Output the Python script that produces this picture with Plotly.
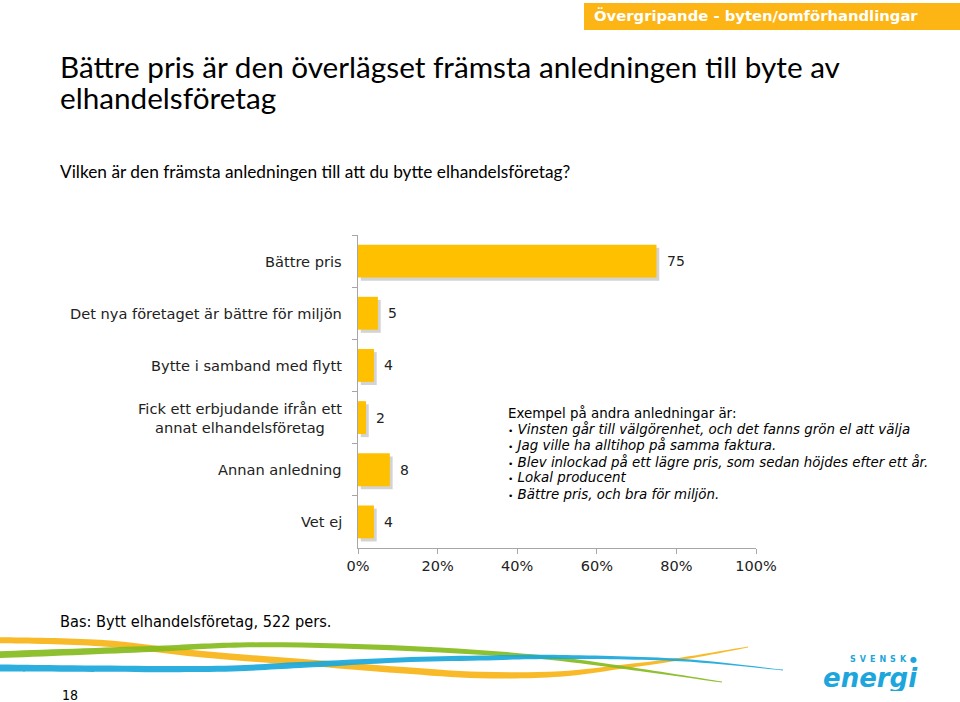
import plotly.graph_objects as go

# ---------------- data ----------------
categories = [
    "Bättre pris",
    "Det nya företaget är bättre för miljön",
    "Bytte i samband med flytt",
    "Fick ett erbjudande ifrån ett<br>annat elhandelsföretag",
    "Annan anledning",
    "Vet ej",
]
values = [75, 5, 4, 2, 8, 4]
x_ticks = [0, 20, 40, 60, 80, 100]
x_ticklabels = ["0%", "20%", "40%", "60%", "80%", "100%"]

title_lines = ["Bättre pris är den överlägset främsta anledningen till byte av", "elhandelsföretag"]
subtitle = "Vilken är den främsta anledningen till att du bytte elhandelsföretag?"
header = "Övergripande - byten/omförhandlingar"
note_head = "Exempel på andra anledningar är:"
note_items = [
    "Vinsten går till välgörenhet, och det fanns grön el att välja",
    "Jag ville ha alltihop på samma faktura.",
    "Blev inlockad på ett lägre pris, som sedan höjdes efter ett år.",
    "Lokal producent",
    "Bättre pris, och bra för miljön.",
]
base_text = "Bas: Bytt elhandelsföretag, 522 pers."
page_no = "18"

# ---------------- layout geometry ----------------
WIDTH, HEIGHT = 960, 702
OFF = 0  # body margin removed via post_script
# plot area in page pixels: x 358..756, y 235..548
L = 358 - OFF
T = 235 - OFF
R = WIDTH - (756 - OFF)
B = HEIGHT - (548 - OFF)
PW = WIDTH - L - R
PH = HEIGHT - T - B


def px(x):
    """page pixel x -> paper"""
    return (x - OFF - L) / PW


def py(y):
    """page pixel y -> paper"""
    return (HEIGHT - B - (y - OFF)) / PH


BAR_COLOR = "#FFC000"
AXIS_COLOR = "#A6A6A6"
LABEL_FONT = "DejaVu Sans"
BAR_W = 0.63

fig = go.Figure()

# soft shadow behind bars
fig.add_trace(go.Bar(
    x=values, y=categories, orientation="h", base=0.7, width=BAR_W,
    offset=-BAR_W / 2 + 0.06,
    marker=dict(color="rgba(110,110,110,0.30)", line=dict(width=0)),
    hoverinfo="skip", showlegend=False,
))
fig.add_trace(go.Bar(
    x=values, y=categories, orientation="h", width=BAR_W,
    marker=dict(color=BAR_COLOR, line=dict(width=0)),
    showlegend=False,
))

annotations = []
# data labels
for c, v in zip(categories, values):
    annotations.append(dict(
        x=v, y=c, xref="x", yref="y", text=str(v), showarrow=False,
        xanchor="left", yanchor="middle", xshift=8,
        font=dict(family=LABEL_FONT, size=14, color="#222222"),
    ))
# category labels
for c in categories:
    annotations.append(dict(
        x=0, y=c, xref="paper", yref="y", text=c, showarrow=False,
        xanchor="right", yanchor="middle", align="center", xshift=-14,
        font=dict(family=LABEL_FONT, size=14.6, color="#222222"),
    ))

# title: one text, line pitch set by the base font size (1.3 x 23.8 = 31 px)
title_text = "<br>".join("<span style='font-size:29.7px'>" + t + "</span>" for t in title_lines)
annotations.append(dict(
    x=px(58), y=py(82), xref="paper", yref="paper", text=title_text,
    showarrow=False, xanchor="left", yanchor="middle", align="left",
    font=dict(family="Lato", size=23.8, color="#000000"),
))
annotations.append(dict(
    x=px(58), y=py(171), xref="paper", yref="paper", text=subtitle,
    showarrow=False, xanchor="left", yanchor="middle",
    font=dict(family="Lato", size=17.3, color="#000000"),
))
# header banner text
annotations.append(dict(
    x=px(592), y=py(16), xref="paper", yref="paper", text="<b>" + header + "</b>",
    showarrow=False, xanchor="left", yanchor="middle",
    font=dict(family="DejaVu Sans", size=14.8, color="#FFFFFF"),
))
# example note (one annotation per line for exact spacing)
BULLET = "<span style='font-size:9px'>•</span>\u00a0"
note_lines = [note_head] + [BULLET + "<i>" + s + "</i>" for s in note_items]
for i, line in enumerate(note_lines):
    annotations.append(dict(
        x=px(506), y=py(413 + 16.2 * i), xref="paper", yref="paper", text=line,
        showarrow=False, xanchor="left", yanchor="middle", align="left",
        font=dict(family=LABEL_FONT, size=13.4, color="#000000"),
    ))
# footer
annotations.append(dict(
    x=px(58), y=py(621), xref="paper", yref="paper", text=base_text,
    showarrow=False, xanchor="left", yanchor="middle",
    font=dict(family="DejaVu Sans Condensed", size=16.2, color="#000000"),
))
annotations.append(dict(
    x=px(60), y=py(695), xref="paper", yref="paper", text=page_no,
    showarrow=False, xanchor="left", yanchor="middle",
    font=dict(family="DejaVu Sans Condensed", size=14, color="#000000"),
))
# logo
annotations.append(dict(
    x=px(919), y=py(659), xref="paper", yref="paper",
    text="<b>" + "\u2002".join("SVENSK") + "\u2002●</b>",
    showarrow=False, xanchor="right", yanchor="middle", height=9,
    font=dict(family="DejaVu Sans", size=8, color="#1DA6DC"),
))
annotations.append(dict(
    x=px(920), y=py(678), xref="paper", yref="paper", text="<b><i>energi</i></b>",
    showarrow=False, xanchor="right", yanchor="middle", height=26,
    font=dict(family="DejaVu Sans", size=26, color="#1DA6DC"),
))

shapes = []
# header banner
shapes.append(dict(type="rect", xref="paper", yref="paper",
                   x0=px(584), x1=px(962), y0=py(30), y1=py(3),
                   fillcolor="#FDB515", line=dict(width=0), layer="below"))


def band(pts, color):
    """decorative swoosh: pts = (x, y, thickness) in page pixels"""
    top = [(x, y - t / 2) for x, y, t in pts]
    bot = [(x, y + t / 2) for x, y, t in pts][::-1]

    def cr(p):
        s = "M{},{}".format(px(p[0][0]), py(p[0][1]))
        n = len(p)
        for i in range(n - 1):
            p0 = p[i - 1] if i > 0 else p[i]
            p1 = p[i]
            p2 = p[i + 1]
            p3 = p[i + 2] if i + 2 < n else p[i + 1]
            c1 = (p1[0] + (p2[0] - p0[0]) / 6, p1[1] + (p2[1] - p0[1]) / 6)
            c2 = (p2[0] - (p3[0] - p1[0]) / 6, p2[1] - (p3[1] - p1[1]) / 6)
            s += " C{},{} {},{} {},{}".format(px(c1[0]), py(c1[1]), px(c2[0]), py(c2[1]),
                                             px(p2[0]), py(p2[1]))
        return s

    path = cr(top) + " L" + cr(bot)[1:] + " Z"
    return dict(type="path", xref="paper", yref="paper", path=path,
                fillcolor=color, line=dict(width=0), layer="above", opacity=0.92)


orange = [(-10, 640, 6), (100, 643, 6.5), (200, 654, 6.5), (300, 662, 6.5), (400, 670, 6.5),
          (480, 675, 6.5), (560, 674, 5.5), (620, 667, 4), (680, 659, 2.5), (748, 647, 0.8)]
green = [(-10, 655, 7), (150, 649, 6), (240, 645, 5), (340, 646, 5), (440, 650, 5),
         (540, 657, 4), (620, 667, 3), (722, 682, 1)]
blue = [(-10, 668, 7), (200, 669, 6), (300, 665, 6), (400, 660, 5), (480, 658, 5),
        (560, 657, 4), (680, 660, 2.5), (783, 670, 0.8)]
shapes.append(band(orange, "#F7B417"))
shapes.append(band(green, "#85BB1E"))
shapes.append(band(blue, "#1AA8DC"))

fig.update_layout(
    width=WIDTH, height=HEIGHT,
    margin=dict(l=L, r=R, t=T, b=B, autoexpand=False),
    paper_bgcolor="white", plot_bgcolor="white",
    barmode="overlay",
    showlegend=False,
    annotations=annotations,
    shapes=shapes,
    xaxis=dict(
        range=[0, 100], tickvals=x_ticks, ticktext=x_ticklabels,
        showgrid=False, zeroline=False, showline=True, linecolor=AXIS_COLOR, linewidth=1,
        ticks="outside", ticklen=5, tickcolor=AXIS_COLOR,
        tickfont=dict(family=LABEL_FONT, size=14.5, color="#222222"),
        fixedrange=True,
    ),
    yaxis=dict(
        autorange="reversed", showgrid=False, zeroline=False,
        showline=True, linecolor=AXIS_COLOR, linewidth=1,
        ticks="outside", ticklen=5, tickcolor=AXIS_COLOR, tickson="boundaries",
        showticklabels=False, fixedrange=True,
    ),
)

fig.write_html(
    "out.html",
    config={"displayModeBar": False},
    post_script="document.body.style.margin='0';document.body.style.overflow='hidden';",
)
